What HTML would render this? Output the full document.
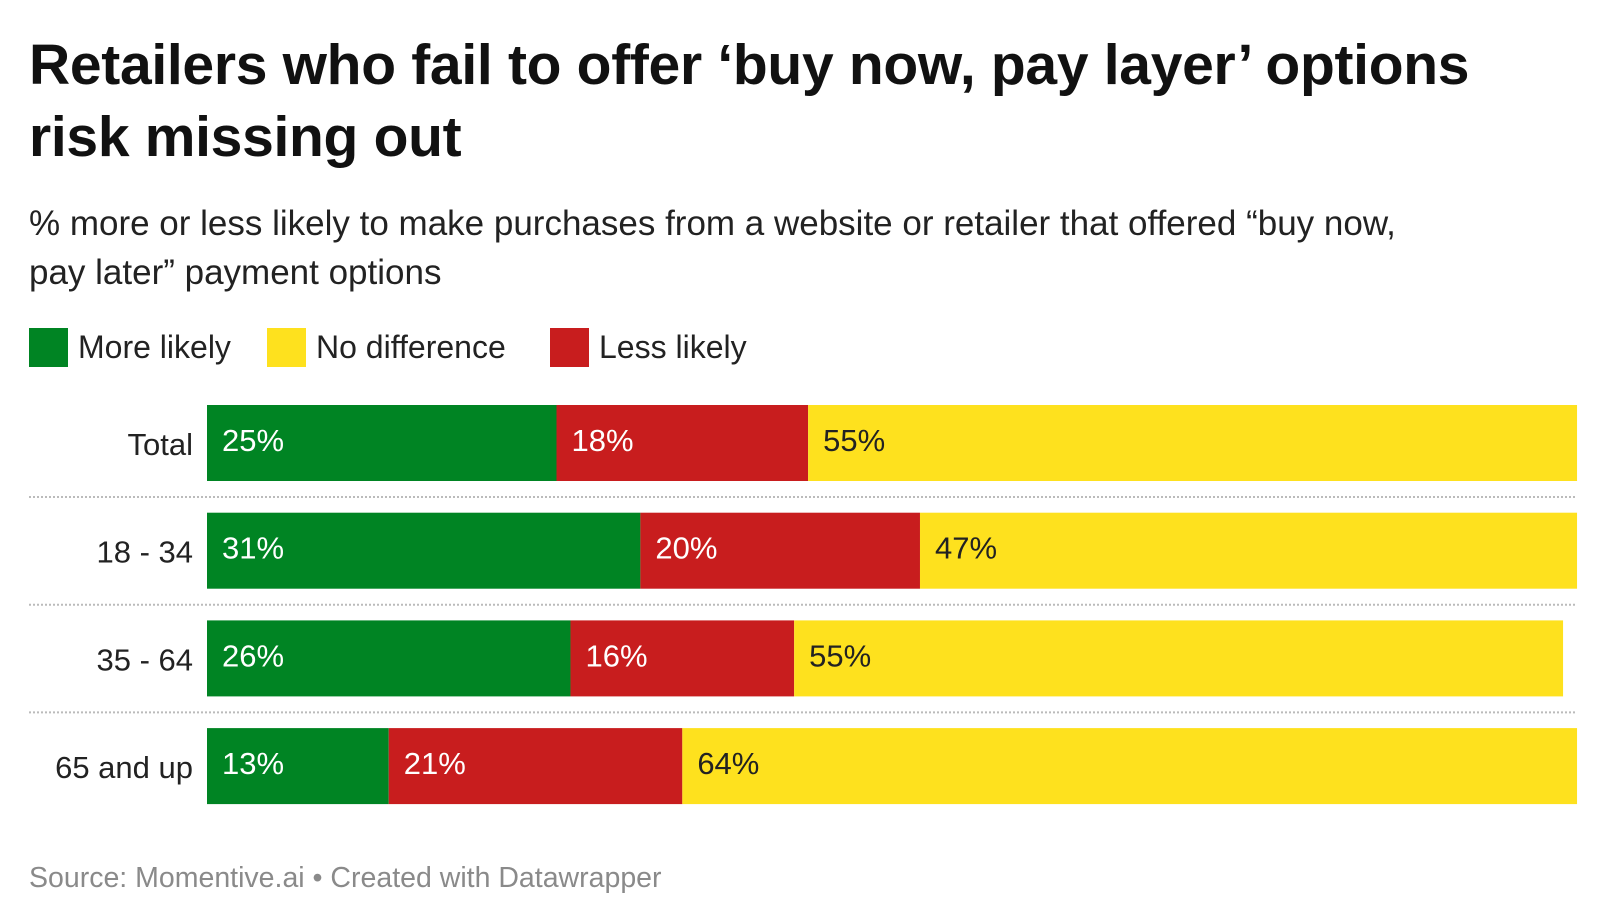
<!DOCTYPE html>
<html><head><meta charset="utf-8">
<style>
body{margin:0;background:#fff;width:1600px;height:924px;overflow:hidden;font-family:"Liberation Sans",sans-serif;}
#title{position:absolute;left:29px;top:29px;width:1570px;font-size:57px;font-weight:bold;line-height:72px;color:#111;letter-spacing:-0.3px;margin:0;white-space:nowrap}
#sub{position:absolute;left:29px;top:199px;width:1570px;font-size:35px;line-height:49px;color:#222;margin:0;white-space:nowrap}
.leg{position:absolute;top:328px;height:39px;display:flex;align-items:center;font-size:32px;color:#222}
.sw{width:39px;height:39px;margin-right:10px}
#src{position:absolute;left:29px;top:862px;font-size:28.5px;color:#8a8a8a}
</style></head><body>
<h1 id="title">Retailers who fail to offer ‘buy now, pay layer’ options<br>risk missing out</h1>
<p id="sub">% more or less likely to make purchases from a website or retailer that offered “buy now,<br>pay later” payment options</p>
<div class="leg" style="left:29px"><div class="sw" style="background:#008423"></div>More likely</div>
<div class="leg" style="left:267px"><div class="sw" style="background:#fee11e"></div>No difference</div>
<div class="leg" style="left:550px"><div class="sw" style="background:#c81d1e"></div>Less likely</div>
<svg id="chart" width="1600" height="924" style="position:absolute;left:0;top:0"></svg>
<div id="src">Source: Momentive.ai • Created with Datawrapper</div>
<script>
const categories=["Total","18 - 34","35 - 64","65 and up"];
const moreLikely=[25,31,26,13];
const lessLikely=[18,20,16,21];
const noDifference=[55,47,55,64];
const svg=document.getElementById('chart');
const NS='http://www.w3.org/2000/svg';
const x0=207,pxPer=13.98,top0=405,pitch=107.7,bh=76;
function xs(v){return v*pxPer;}
function yb(i){return top0+i*pitch;}
const series=[{n:'more-likely',d:moreLikely,c:'#008423',t:'#fff'},{n:'less-likely',d:lessLikely,c:'#c81d1e',t:'#fff'},{n:'no-difference',d:noDifference,c:'#fee11e',t:'#222'}];
categories.forEach((cat,i)=>{
  const y=yb(i);
  const lab=document.createElementNS(NS,'text');
  
  
  lab.setAttribute('x',193);lab.setAttribute('y',y+bh/2+12);
  lab.setAttribute('text-anchor','end');lab.setAttribute('font-size','31');lab.setAttribute('fill','#222');
  lab.textContent=cat;svg.appendChild(lab);
  let acc=0;
  series.forEach(s=>{
    const v=s.d[i];
    const r=document.createElementNS(NS,'rect');
    
    
    r.setAttribute('x',x0+xs(acc));r.setAttribute('y',y);r.setAttribute('width',xs(v));r.setAttribute('height',bh);r.setAttribute('fill',s.c);
    svg.appendChild(r);
    const t=document.createElementNS(NS,'text');
    
    
    t.setAttribute('x',x0+xs(acc)+15);t.setAttribute('y',y+bh/2+8);
    t.setAttribute('font-size','31');t.setAttribute('fill',s.t);
    t.textContent=v+'%';svg.appendChild(t);
    acc+=v;
  });
  if(i<categories.length-1){
    const l=document.createElementNS(NS,'line');
    
    
    l.setAttribute('x1',29);l.setAttribute('x2',1577);l.setAttribute('y1',y+bh+16);l.setAttribute('y2',y+bh+16);
    l.setAttribute('stroke','#bbb');l.setAttribute('stroke-width','2');l.setAttribute('stroke-dasharray','2 2');
    svg.appendChild(l);
  }
});
</script>
</body></html>
